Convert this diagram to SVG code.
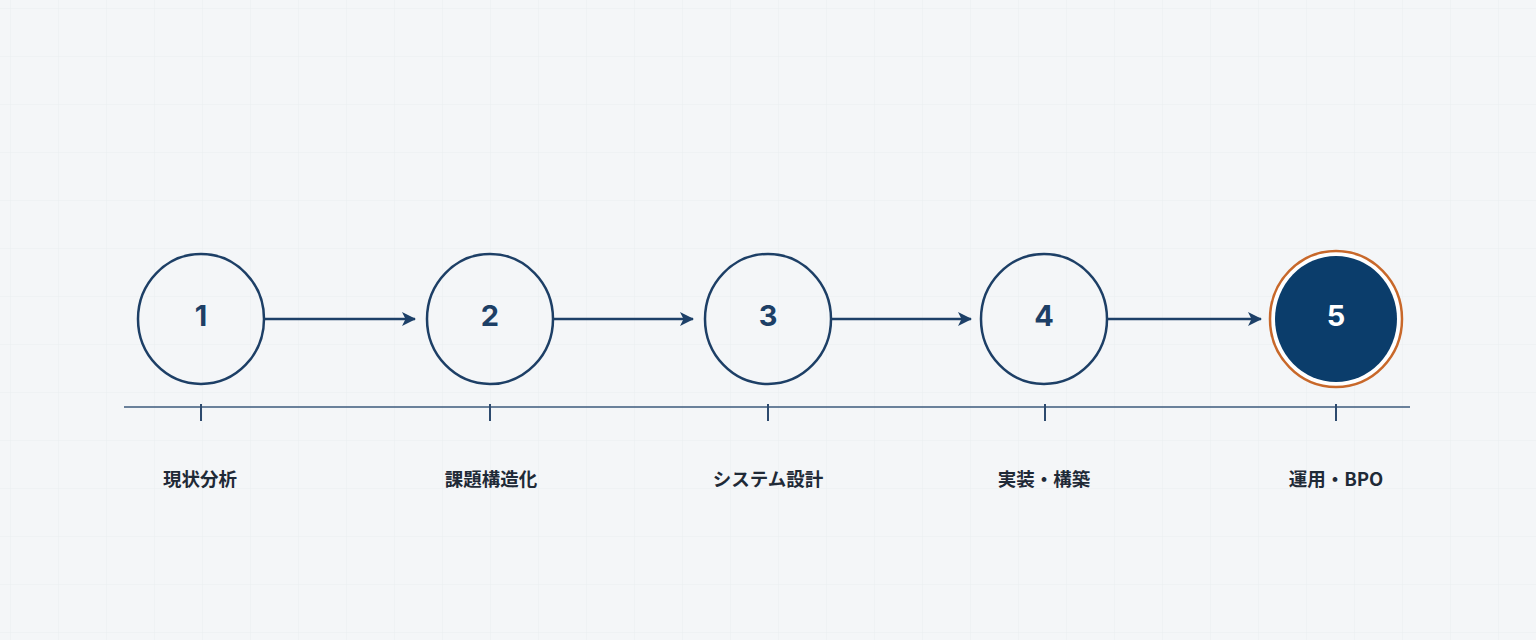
<svg xmlns="http://www.w3.org/2000/svg" width="1536" height="640" viewBox="0 0 1536 640">
<defs>
<pattern id="grid" x="10" y="8" width="48" height="48" patternUnits="userSpaceOnUse">
<path d="M0 0H48M0 0V48" fill="none" stroke="#e9edf0" stroke-width="1"/>
</pattern>
<marker id="arrow" viewBox="0 0 14 14" refX="13" refY="7" markerWidth="14" markerHeight="14" markerUnits="userSpaceOnUse" orient="auto">
<path d="M0 0L14 7L0 14L3.5 7Z" fill="#1d4068"/>
</marker>
<style>
.node{fill:none;stroke:#1d3f66;stroke-width:2.5}
.num{font-family:Inter,"Noto Sans","Liberation Sans",sans-serif;font-weight:700;font-size:29px;fill:#1d3f66;text-anchor:middle}
.lbl{font-family:"Noto Sans CJK JP","Noto Sans",sans-serif;font-weight:700;font-size:18.5px;fill:#1f2a37;text-anchor:middle}
.conn{stroke:#1d4068;stroke-width:2.5;fill:none}
.axis{stroke:#3d5a7c;stroke-width:1.5}
.tick{stroke:#2d4a6e;stroke-width:2}
</style>
</defs>
<rect width="1536" height="640" fill="#f4f6f8"/>
<rect width="1536" height="640" fill="url(#grid)"/>
<g id="axis">
<line class="axis" x1="124" y1="407" x2="1410" y2="407"/>
<line class="tick" x1="201" y1="404" x2="201" y2="421"/>
<line class="tick" x1="490" y1="404" x2="490" y2="421"/>
<line class="tick" x1="768" y1="404" x2="768" y2="421"/>
<line class="tick" x1="1045" y1="404" x2="1045" y2="421"/>
<line class="tick" x1="1336" y1="404" x2="1336" y2="421"/>
</g>
<g id="connectors">
<line class="conn" x1="265" y1="319" x2="415" y2="319" marker-end="url(#arrow)"/>
<line class="conn" x1="553" y1="319" x2="693" y2="319" marker-end="url(#arrow)"/>
<line class="conn" x1="831" y1="319" x2="971" y2="319" marker-end="url(#arrow)"/>
<line class="conn" x1="1108" y1="319" x2="1261" y2="319" marker-end="url(#arrow)"/>
</g>
<g id="node1">
<ellipse class="node" cx="201" cy="319" rx="63" ry="65"/>
<text class="num" x="201" y="326">1</text>
<text class="lbl" x="200" y="486">現状分析</text>
</g>
<g id="node2">
<ellipse class="node" cx="490" cy="319" rx="63" ry="65"/>
<text class="num" x="490" y="326">2</text>
<text class="lbl" x="491" y="486">課題構造化</text>
</g>
<g id="node3">
<ellipse class="node" cx="768" cy="319" rx="63" ry="65"/>
<text class="num" x="768" y="326">3</text>
<text class="lbl" x="768" y="486">システム設計</text>
</g>
<g id="node4">
<ellipse class="node" cx="1044" cy="319" rx="63" ry="65"/>
<text class="num" x="1044" y="326">4</text>
<text class="lbl" x="1044" y="486">実装・構築</text>
</g>
<g id="node5">
<ellipse cx="1336" cy="319" rx="66" ry="68" fill="#ffffff" stroke="#c8682a" stroke-width="2.5"/>
<ellipse cx="1336" cy="319" rx="61" ry="63" fill="#0b3d6b"/>
<text class="num" x="1336" y="326" style="fill:#ffffff">5</text>
<text class="lbl" x="1336" y="486">運用・BPO</text>
</g>
</svg>
